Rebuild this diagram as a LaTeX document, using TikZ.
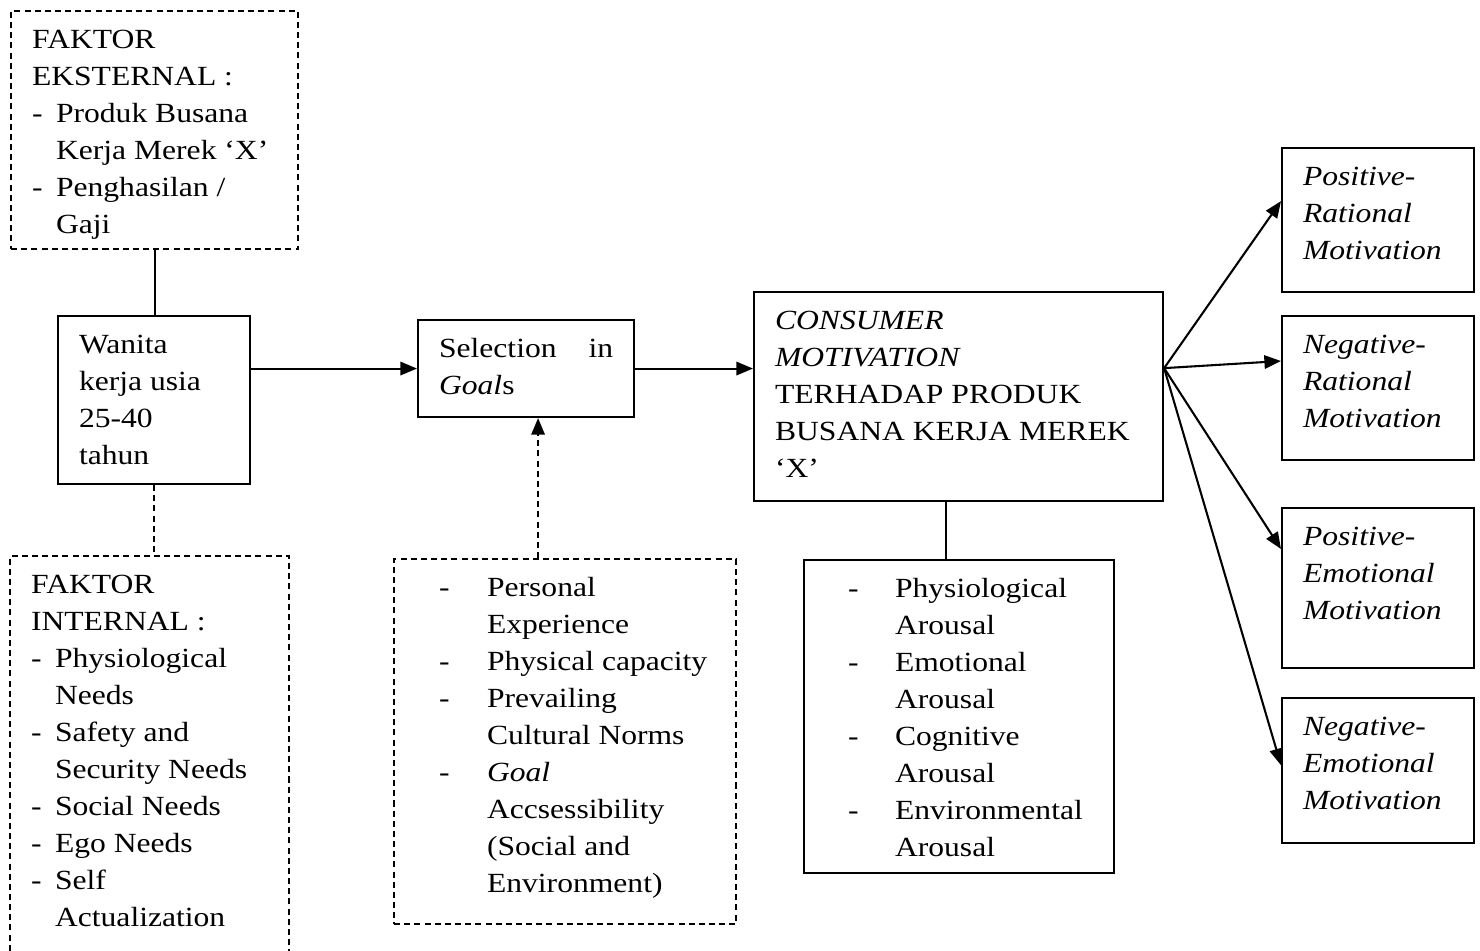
\documentclass[tikz,border=0pt]{standalone}
\usepackage{fontspec}
\setmainfont[FakeStretch=1.14]{Liberation Serif}
\usepackage{tikz}
\usetikzlibrary{arrows.meta}
\newlength{\px}
\setlength{\px}{0.433pt}
\newcommand{\boxtext}[3]{\parbox[t][#2][t]{#1}{\raggedright\strut #3}}
\newcommand{\dashitem}[2]{\makebox[#2][l]{\hspace*{#1}-}}
\newcommand{\dashgap}[1]{\hspace*{#1}}
\tikzset{
  box/.style={draw, line width=0.9pt, rectangle, anchor=north west,
    inner xsep=9.1pt, inner ysep=5.2pt, font=\fontsize{12pt}{16pt}\selectfont},
  dashbox/.style={box, dash pattern=on 2.6pt off 1.8pt},
  link/.style={line width=0.9pt},
  linkdash/.style={link, dash pattern=on 2.6pt off 1.8pt},
  linkarrow/.style={link, -{Triangle[length=7.2pt,width=5.8pt]}}
}

\begin{document}
\begin{tikzpicture}[x=0.433pt, y=-0.433pt]
    % Motivasi konsumen busana kerja
        \clip (0,0) rectangle (1480,950);
        \node (ext) at (10,10) [dashbox] {\boxtext{245\px}{214\px}{FAKTOR\\
            EKSTERNAL :\\
            \dashitem{0pt}{24\px}Produk Busana\\
            \dashgap{24\px}Kerja Merek ‘X’\\
            \dashitem{0pt}{24\px}Penghasilan /\\
            \dashgap{24\px}Gaji}};
        \node (wanita) at (57,315) [box] {\boxtext{150\px}{144\px}{Wanita\\
            kerja usia\\
            25-40\\
            tahun}};
        \node (internal) at (9,555) [dashbox] {\boxtext{237\px}{401\px}{FAKTOR\\
            INTERNAL :\\
            \dashitem{0pt}{24\px}Physiological\\
            \dashgap{24\px}Needs\\
            \dashitem{0pt}{24\px}Safety and\\
            \dashgap{24\px}Security Needs\\
            \dashitem{0pt}{24\px}Social Needs\\
            \dashitem{0pt}{24\px}Ego Needs\\
            \dashitem{0pt}{24\px}Self\\
            \dashgap{24\px}Actualization}};
        \node (select) at (417,319) [box] {\boxtext{174\px}{73\px}{Selection \hfill in\\
            \textit{Goal}s}};
        \node (goals) at (393,558) [dashbox] {\boxtext{300\px}{341\px}{\dashitem{24\px}{72\px}Personal\\
            \dashgap{72\px}Experience\\
            \dashitem{24\px}{72\px}Physical capacity\\
            \dashitem{24\px}{72\px}Prevailing\\
            \dashgap{72\px}Cultural Norms\\
            \dashitem{24\px}{72\px}\textit{Goal}\\
            \dashgap{72\px}Accsessibility\\
            \dashgap{72\px}(Social and\\
            \dashgap{72\px}Environment)}};
        \node (consumer) at (753,291) [box] {\boxtext{367\px}{185\px}{\textit{CONSUMER}\\
            \textit{MOTIVATION}\\
            TERHADAP PRODUK\\
            BUSANA KERJA MEREK\\
            ‘X’}};
        \node (arousal) at (803,559) [box] {\boxtext{268\px}{289\px}{\dashitem{23\px}{70\px}Physiological\\
            \dashgap{70\px}Arousal\\
            \dashitem{23\px}{70\px}Emotional\\
            \dashgap{70\px}Arousal\\
            \dashitem{23\px}{70\px}Cognitive\\
            \dashgap{70\px}Arousal\\
            \dashitem{23\px}{70\px}Environmental\\
            \dashgap{70\px}Arousal}};
        \node (posrat) at (1281,147) [box] {\boxtext{150\px}{120\px}{\textit{Positive-\\
            Rational\\
            Motivation}}};
        \node (negrat) at (1281,315) [box] {\boxtext{150\px}{120\px}{\textit{Negative-\\
            Rational\\
            Motivation}}};
        \node (posemo) at (1281,507) [box] {\boxtext{150\px}{136\px}{\textit{Positive-\\
            Emotional\\
            Motivation}}};
        \node (negemo) at (1281,697) [box] {\boxtext{150\px}{121\px}{\textit{Negative-\\
            Emotional\\
            Motivation}}};

        \coordinate (gx) at ([xshift=5.2pt]select.south);
        \coordinate (cx) at ([xshift=-5.6pt]consumer.south);
        \coordinate (fan) at ([yshift=12.3pt]consumer.east);

        \draw[link] (ext.south) to (ext.south |- wanita.north);
        \draw[linkdash] (wanita.south) to (wanita.south |- internal.north);
        \draw[linkarrow] (wanita.east |- select.west) to (select.west);
        \draw[linkarrow] (select.east) to (select.east -| consumer.west);
        \draw[linkdash, linkarrow] (gx |- goals.north) to (gx);
        \draw[link] (cx) to (cx |- arousal.north);
        \foreach \goal/\lift in {posrat/8.2pt, negrat/11.7pt, posemo/16.9pt, negemo/2.3pt}
            \draw[linkarrow] (fan) to ([yshift=\lift]\goal.west);

  \end{tikzpicture}
\end{document}
